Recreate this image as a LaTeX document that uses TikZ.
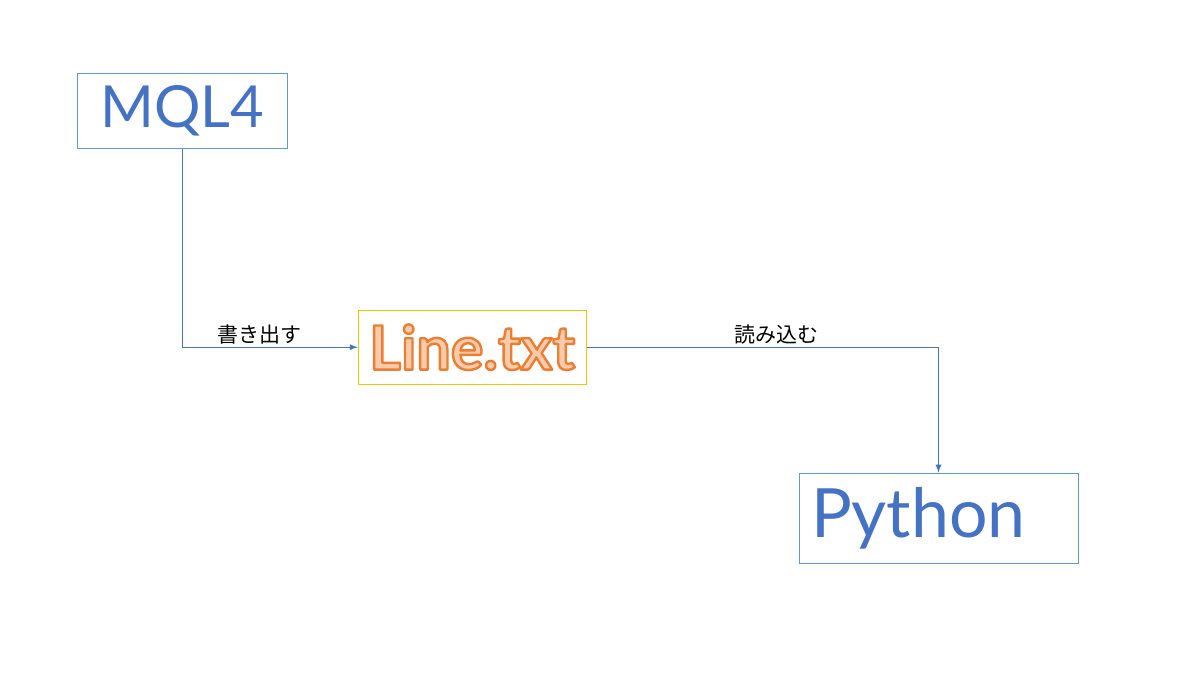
\documentclass[tikz,border=0pt]{standalone}
\usepackage{fontspec}
\setmainfont{Lato}
\newfontfamily\jpfont{Noto Sans CJK JP}
\usetikzlibrary{positioning,arrows}
\definecolor{msblue}{HTML}{4472C4}
\definecolor{msline}{HTML}{5B9BD5}
\definecolor{msgold}{HTML}{FFC000}
\definecolor{msorange}{HTML}{ED7D31}
\definecolor{mspeach}{HTML}{F8CBAD}
% peach letters with an orange edge (fill and stroke)
\newcommand\edgetext[1]{%
  \textcolor{mspeach}{\special{pdf:literal direct 0.93 0.49 0.19 RG 1.2 w 1 j 2 Tr}#1%
  \special{pdf:literal direct 0 Tr}}}
\tikzset{
  lang/.style  ={rectangle, draw=msline, thin, fill=white, text=msblue,
                 align=center, inner sep=0pt},
  file/.style  ={rectangle, draw=msgold, thin, fill=white, align=center,
                 minimum width=114pt, minimum height=37pt, inner sep=0pt},
  fl/.style    ={-latex, thin, draw=msblue},
  lbl/.style   ={font=\jpfont\fontsize{10.5pt}{12pt}\selectfont, text=black, inner sep=1.5pt}
}

\begin{document}
\begin{tikzpicture}
  \useasboundingbox (0,0) rectangle (600pt,-337.5pt);
  \node[lang,anchor=north west,minimum width=105pt,minimum height=37.5pt,
        font=\fontsize{29pt}{32pt}\selectfont] (mql) at (38.5pt,-36.5pt) {MQL4};
  \node[file,below right=80.5pt and 35pt of mql,font=\fontsize{30.5pt}{34pt}\selectfont\bfseries] (txt)
    {\edgetext{Line.txt}};
  \node[lang,below right=44pt and 106pt of txt,minimum height=45pt,text width=127.5pt,
        inner xsep=6pt,align=left,font=\fontsize{34pt}{38pt}\selectfont] (py) {Python};
  \draw[fl] (mql) |- node[lbl,above,pos=0.72] {書き出す} (txt);
  \draw[fl] (txt) -| node[lbl,above,pos=0.27] {読み込む} (py);
\end{tikzpicture}
\end{document}
